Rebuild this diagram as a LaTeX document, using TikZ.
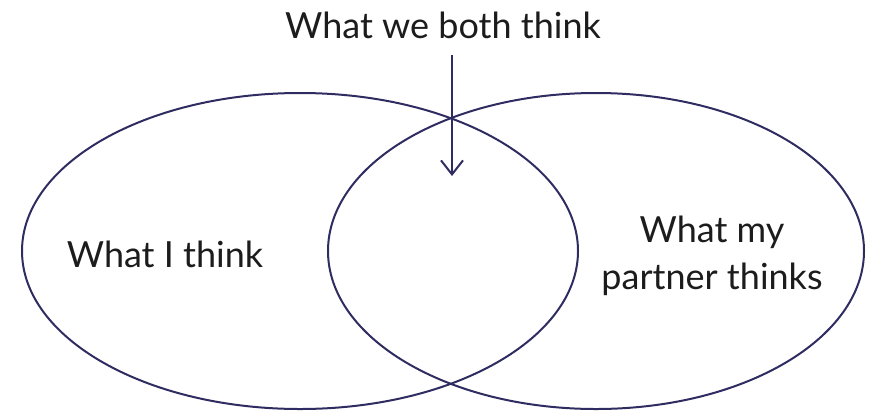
\documentclass[tikz,border=0pt]{standalone}
\usepackage{fontspec}
\setmainfont{Lato}
\usetikzlibrary{arrows.meta}
\definecolor{setline}{RGB}{46,44,96}
\definecolor{labeltext}{RGB}{28,28,28}
\tikzset{
setedge/.style={draw=setline,line width=2pt},
vennlabel/.style={font=\fontsize{36}{47}\selectfont,text=labeltext,align=center,inner sep=0pt},
pointer/.style={-{Straight Barb[length=14pt,width=22pt]},draw=setline,line width=2pt}
}
\begin{document}
\begin{tikzpicture}[x=1pt,y=-1pt]
\useasboundingbox (0,0) rectangle (869,413);
% the two sets
\draw[setedge] (300,251) ellipse [x radius=278pt,y radius=158pt];
\draw[setedge] (596,251) ellipse [x radius=268pt,y radius=158pt];
% texts
\node[vennlabel,anchor=base] (both) at (443,38) {What we both think};
\node[vennlabel,anchor=base] (mine) at (165,267) {What I think};
\node[vennlabel] (theirs) at (712,256) {What my\\partner thinks};
\coordinate (overlap) at (452,176);
\draw[pointer,shorten <=17pt] (both.south -| overlap) -- (overlap);
\end{tikzpicture}
\end{document}
